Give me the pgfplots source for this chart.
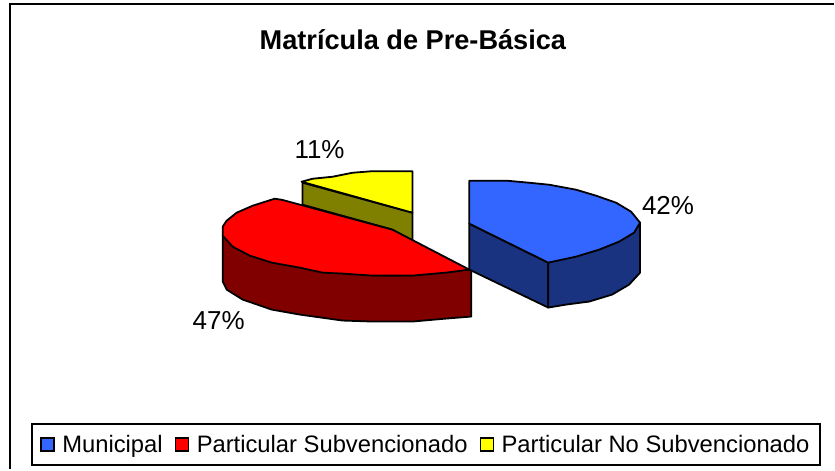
\documentclass[border=0pt]{standalone}
\usepackage{fontspec}
\setmainfont{Liberation Sans}
\usepackage{pgfplots}
\pgfplotsset{compat=1.18}
\definecolor{bluetop}{RGB}{51,102,255}
\definecolor{blueside}{RGB}{25,51,128}
\definecolor{redtop}{RGB}{255,0,0}
\definecolor{redside}{RGB}{128,0,0}
\definecolor{yeltop}{RGB}{255,255,0}
\definecolor{yelside}{RGB}{128,128,0}
\pgfplotsset{
  swatch/.style={legend image code/.code={
    \draw[fill=#1,draw=black,line width=1.6pt] (0pt,-6.5pt) rectangle (13pt,6.5pt);}},
  piece/.style={forget plot, fill=#1, draw=black, line width=1.8pt, line join=round}
}
\begin{document}
\begin{tikzpicture}[x=1pt,y=1pt]
\begin{axis}[
  scale only axis, width=835pt, height=470pt,
  xmin=0, xmax=835, ymin=0, ymax=470, y dir=reverse,
  axis lines=none, clip=false,
  legend columns=3,
  legend style={at={(axis cs:31,424)}, anchor=north west, draw=black, line width=1.6pt,
    font=\fontsize{23.8}{26}\selectfont, inner xsep=8.5pt, inner ysep=9pt,
    /tikz/every odd column/.append style={column sep=5.5pt},
    /tikz/every even column/.append style={column sep=10pt}},
  legend cell align=left,
]
% page extent
\addplot[forget plot, draw=none] coordinates {(0,0)(835,470)};
% frame
\addplot[forget plot, black, line width=2.4pt] coordinates {(835,4)(10,4)(10,470)};
% yellow slice
\addplot[piece=yelside] coordinates
 {(303,183)(413,213)(413,242)(393,230)(303,205)} -- cycle;
\addplot[piece=yeltop] coordinates
 {(413,213)(302,182)(313,179)(333,177)(353,173)(372,171.5)(413,171.5)} -- cycle;
% red slice
\addplot[piece=redside] coordinates
 {(223,236)(223,282)(227,290)(243,300)(272,310)(300,315)(343,321)(373,322)(413,322)(447,319)(472,317)(472,270)} -- cycle;
\addplot[piece=redtop] coordinates
 {(470,270)(393,230)(282,200)(275,199)(253,206)(237,213)(227,221)(223,227)(223,236)(233,247)(250,256)(272,263)(300,268)(323,273)(343,274)(373,276)(413,276)(447,273)} -- cycle;
% blue slice
\addplot[piece=blueside] coordinates
 {(470,224)(549,263)(549,308)(470,270)} -- cycle;
\addplot[piece=blueside] coordinates
 {(549,263)(641,223)(641,273)(630,285)(613,295)(590,302)(567,305)(549,308)} -- cycle;
\addplot[piece=bluetop] coordinates
 {(470,181)(508,181)(530,183)(550,185)(577,190)(597,196)(617,203)(632,212)(641,223)(635,233)(620,242)(600,250)(577,257)(549,263)(470,224)} -- cycle;
% legend entries
\addlegendimage{swatch=bluetop}\addlegendentry{Municipal}
\addlegendimage{swatch=redtop}\addlegendentry{Particular Subvencionado}
\addlegendimage{swatch=yeltop}\addlegendentry{Particular No Subvencionado}
% text
\node[font=\bfseries\fontsize{27.2}{30}\selectfont] at (axis cs:413.5,40) {Matrícula de Pre-Básica};
\node[font=\fontsize{26}{28}\selectfont] at (axis cs:669,206) {42\%};
\node[font=\fontsize{26}{28}\selectfont] at (axis cs:219,321) {47\%};
\node[font=\fontsize{26}{28}\selectfont] at (axis cs:320,150) {11\%};
\end{axis}
\end{tikzpicture}
\end{document}
